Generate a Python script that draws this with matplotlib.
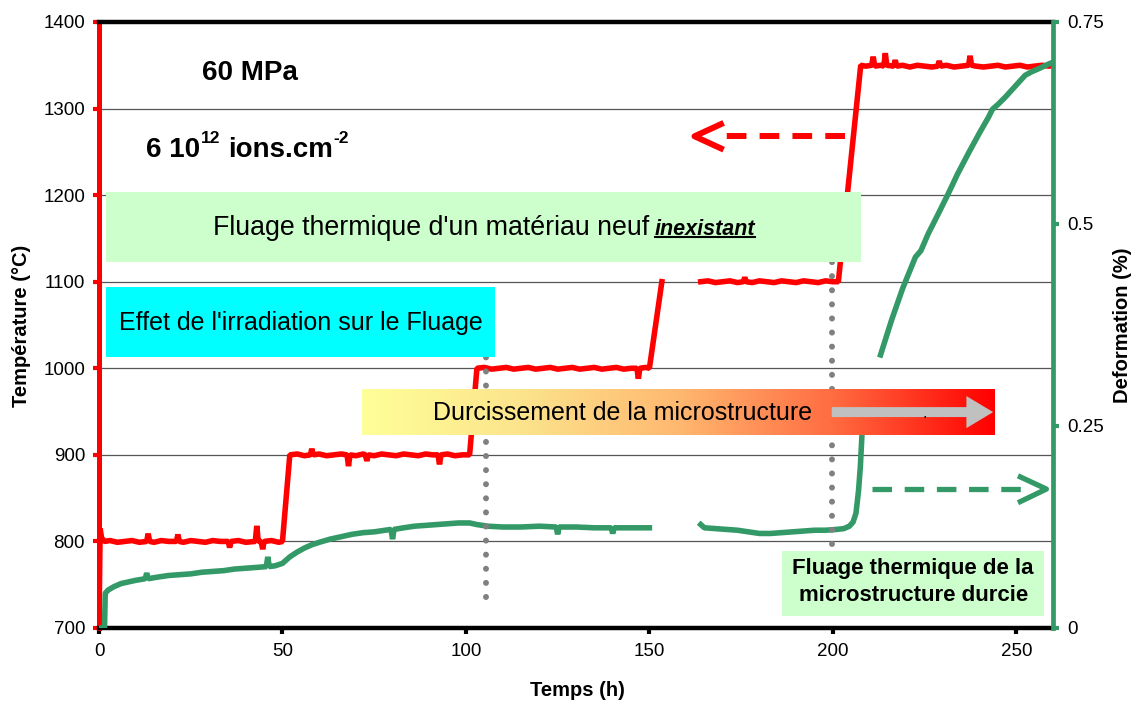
import numpy as np
import matplotlib.pyplot as plt
from matplotlib.colors import LinearSegmentedColormap
from matplotlib.patches import Rectangle, FancyArrow

plt.rcParams['font.family'] = ['Liberation Sans', 'DejaVu Sans']

# Température (°C) : paliers 800 -> 1000 puis 1100 -> 1350
temp_t1 = [0, 0.3, 0.7, 1.5, 3, 5, 7, 9, 11, 13.0, 13.4, 13.8, 15, 17, 19,
           21.1, 21.5, 21.9, 23, 25, 27, 29, 31, 33, 35.2, 35.6, 36, 38, 40,
           42.6, 43, 43.4, 44.2, 44.6, 45, 47, 49, 50, 52, 54, 56, 57.6, 58,
           58.4, 60, 62, 64, 66, 67.6, 68, 68.4, 70, 72, 72.6, 73, 73.4, 75,
           77, 79, 81, 83, 85, 87, 89, 91, 92.4, 92.8, 93.2, 95, 97, 99, 101,
           103, 105, 107, 109, 111, 113, 115, 117, 119, 121, 123, 125, 127,
           129, 131, 133, 135, 137, 139, 141, 143, 145, 146.6, 147, 147.4,
           149, 150, 153.4]
temp_v1 = [700, 815, 804, 800, 801, 799, 800, 801, 799, 800, 809, 800, 799,
           801, 800, 800, 808, 800, 799, 801, 800, 799, 801, 800, 800, 793,
           800, 801, 799, 800, 818, 800, 800, 791, 800, 801, 799, 800, 900,
           901, 899, 900, 907, 900, 901, 899, 900, 901, 900, 887, 900, 899,
           901, 900, 893, 900, 899, 901, 900, 899, 901, 900, 899, 901, 900,
           900, 889, 900, 901, 899, 900, 900, 1000, 1001, 999, 1000, 1001,
           999, 1000, 1001, 999, 1000, 1001, 999, 1000, 1001, 999, 1000, 1001,
           999, 1000, 1001, 999, 1000, 1000, 988, 1000, 1001, 1000, 1100]
temp_t2 = [164, 166, 168, 170, 172, 174, 175.6, 176, 176.4, 178, 180, 182,
           184, 186, 188, 190, 192, 194, 196, 198, 200, 201.5, 207.6, 209,
           210.6, 211, 211.4, 213, 213.9, 214.3, 214.7, 216.6, 217, 217.4,
           219, 221, 223, 225, 227, 228.6, 229, 229.4, 231, 233, 235, 237,
           237.4, 237.8, 239, 241, 243, 245, 247, 249, 251, 253, 255, 257,
           259, 260]
temp_v2 = [1100, 1101, 1099, 1100, 1101, 1099, 1100, 1105, 1100, 1099, 1101,
           1100, 1099, 1101, 1100, 1099, 1101, 1100, 1099, 1101, 1100, 1100,
           1350, 1349, 1350, 1360, 1349, 1350, 1349, 1364, 1350, 1349, 1356,
           1349, 1350, 1348, 1350, 1349, 1348, 1349, 1355, 1349, 1350, 1348,
           1349, 1350, 1361, 1350, 1349, 1348, 1349, 1350, 1348, 1349, 1350,
           1348, 1349, 1350, 1349, 1350]

# Deformation (%) : trois morceaux d'enregistrement
def_t1 = [0, 1.5, 1.7, 2.5, 4, 6, 8, 10, 12.6, 13, 13.4, 16, 19, 22, 25, 28,
          31, 34, 37, 40, 43, 45.6, 46, 46.4, 48, 50, 52, 54, 56, 58, 60, 63,
          66, 69, 72, 75, 78, 79.6, 80, 80.4, 83, 86, 89, 92, 95, 98, 101, 103,
          106, 110, 115, 120, 124.6, 125, 125.4, 130, 135, 139.6, 140, 140.4,
          145, 150]
def_v1 = [0, 0, 0.043, 0.047, 0.051, 0.055, 0.057, 0.059, 0.061, 0.068, 0.061,
          0.063, 0.065, 0.066, 0.067, 0.069, 0.070, 0.071, 0.073, 0.074, 0.075,
          0.076, 0.088, 0.076, 0.077, 0.080, 0.088, 0.094, 0.099, 0.103, 0.106,
          0.110, 0.113, 0.116, 0.118, 0.119, 0.121, 0.122, 0.110, 0.122, 0.124,
          0.126, 0.127, 0.128, 0.129, 0.130, 0.130, 0.128, 0.126, 0.125, 0.125,
          0.126, 0.125, 0.116, 0.125, 0.125, 0.124, 0.124, 0.117, 0.124, 0.124,
          0.124]
def_t2 = [164, 165, 168, 171, 174, 177, 180, 183, 186, 189, 192, 195, 198,
          201, 203, 204.5, 205.5, 206.3, 207, 207.5, 208, 208.3]
def_v2 = [0.128, 0.124, 0.123, 0.122, 0.121, 0.119, 0.117, 0.117, 0.118,
          0.119, 0.120, 0.121, 0.121, 0.122, 0.123, 0.126, 0.131, 0.142, 0.17,
          0.20, 0.245, 0.285]
def_t3 = [213, 216, 219, 222.5, 224, 226, 229, 231.5, 234, 237, 240, 242.4,
          243.5, 245, 247, 250, 252.4, 254, 256, 259.3, 260]
def_v3 = [0.338, 0.381, 0.42, 0.459, 0.467, 0.488, 0.515, 0.538, 0.562, 0.588,
          0.613, 0.632, 0.642, 0.648, 0.657, 0.672, 0.684, 0.688, 0.692, 0.699,
          0.70]

x_ticks = [0, 50, 100, 150, 200, 250]
temp_ticks = [700, 800, 900, 1000, 1100, 1200, 1300, 1400]
def_ticks = [0, 0.25, 0.5, 0.75]
def_labels = ['0', '0.25', '0.5', '0.75']

RED = '#FF0000'
GREEN = '#339966'

# trous dans l'enregistrement
temps_T = np.concatenate([temp_t1, [np.nan], temp_t2])
val_T = np.concatenate([temp_v1, [np.nan], temp_v2])
temps_D = np.concatenate([def_t1, [np.nan], def_t2, [np.nan], def_t3])
val_D = np.concatenate([def_v1, [np.nan], def_v2, [np.nan], def_v3])

fig = plt.figure(figsize=(11.37, 7.05), dpi=100)
ax1 = fig.add_axes([99 / 1137, 1 - 628 / 705, 954 / 1137, 606 / 705])
ax2 = ax1.twinx()
ax2.set_ylim(0, 0.75)
ax1.set_xlim(0, 260)
ax1.set_ylim(700, 1400)

ax1.grid(axis='y', color='#555555', lw=0.9)
ax1.set_axisbelow(True)

# courbes (la déformation est tracée dans ax1 avec l'échelle de ax2)
ax1.plot(temps_T, val_T, color=RED, lw=4, zorder=2, solid_joinstyle='bevel')
ax1.plot(temps_D, val_D, color=GREEN, lw=4, zorder=3, transform=ax2.transData,
         solid_joinstyle='bevel')

# pointillés gris
ax1.plot([105.5, 105.5], [736, 1020], color='#808080', lw=4.3,
         linestyle=(0, (0.01, 2.35)), dash_capstyle='round', zorder=4)
ax1.plot([199.8, 199.8], [797, 1125], color='#808080', lw=4.3,
         linestyle=(0, (0.01, 2.35)), dash_capstyle='round', zorder=4)

# flèches en tirets
ax1.plot([203.2, 170.3], [1268, 1268], color=RED, lw=4.3,
         linestyle=(0, (3.3, 2.2)), zorder=4)
ax1.plot([169.5, 162.3, 169.5], [1282, 1268, 1254], color=RED, lw=4.3, zorder=4)
ax1.plot([210.6, 252], [860.5, 860.5], color=GREEN, lw=3.8,
         linestyle=(0, (3.7, 2.4)), zorder=4)
ax1.plot([251.1, 258.2, 251.1], [874.5, 860.5, 846], color=GREEN, lw=3.8, zorder=4)

# cadres
ax1.add_patch(Rectangle((1.9, 1123), 205.7, 81, fc='#CCFFCC', ec='none', zorder=5))
ax1.add_patch(Rectangle((1.9, 1013), 106.1, 81, fc='#00FFFF', ec='none', zorder=5))
ax1.add_patch(Rectangle((186.2, 714), 71.4, 75, fc='#CCFFCC', ec='none', zorder=5))

cmap = LinearSegmentedColormap.from_list(
    'durci', ['#FFFF99', '#FCE48C', '#FFB870', '#FF6A40', '#FF0000'])
ax1.imshow(np.linspace(0, 1, 256).reshape(1, -1), cmap=cmap, aspect='auto',
           extent=[71.8, 244.3, 923, 976], interpolation='bilinear', zorder=5)
ax1.add_patch(FancyArrow(199.7, 949.4, 44, 0, width=11.5, head_width=37,
                         head_length=7.3, length_includes_head=True,
                         fc='#C0C0C0', ec='none', zorder=6))

# textes
bold20 = dict(fontsize=20, fontweight='bold', zorder=6)
sup = dict(fontsize=12.5, fontweight='bold', zorder=6, va='bottom',
           textcoords='offset points')
ax1.text(41, 1333, '60 MPa', ha='center', va='baseline', **bold20)
p1 = ax1.text(12.7, 1244, '6 10', ha='left', va='baseline', **bold20)
s1 = ax1.annotate('12', xy=(1, 0), xycoords=p1, xytext=(0.5, 12.5), **sup)
p2 = ax1.annotate('ions.cm', xy=(1, 0), xycoords=s1, xytext=(6, -12.5),
                  textcoords='offset points', va='bottom', **bold20)
ax1.annotate('-2', xy=(1, 0), xycoords=p2, xytext=(0.5, 12.5), **sup)

ax1.text(149.9, 1154, "Fluage thermique d'un matériau neuf", fontsize=19.3,
         ha='right', va='baseline', zorder=6)
t_inex = ax1.text(151.5, 1154, 'inexistant', fontsize=15.5, fontweight='bold',
                  fontstyle='italic', ha='left', va='baseline', zorder=6)
ax1.text(55, 1044, "Effet de l'irradiation sur le Fluage", fontsize=18,
         ha='center', va='baseline', zorder=6)
ax1.text(142.7, 940, 'Durcissement de la microstructure', fontsize=18,
         ha='center', va='baseline', zorder=6)
ax1.text(225, 942, '.', fontsize=12, ha='center', va='baseline', zorder=6)
ax1.text(221.9, 753, 'Fluage thermique de la\nmicrostructure durcie',
         fontsize=16, fontweight='bold', ha='center', va='center',
         linespacing=1.35, zorder=6)

# axes
ax1.set_xticks(x_ticks)
ax1.set_yticks(temp_ticks)
ax2.set_yticks(def_ticks)
ax2.set_yticklabels(def_labels)
ax1.tick_params(axis='x', direction='out', length=4, width=3, color='black',
                labelsize=13.5, pad=7)
ax1.tick_params(axis='y', direction='out', length=4, width=3, color=RED,
                labelsize=13.5, pad=6)
ax2.tick_params(axis='y', direction='out', length=4, width=3, color=GREEN,
                labelsize=13.5, pad=6)

for s in ['top', 'bottom']:
    ax1.spines[s].set_linewidth(3.2)
    ax1.spines[s].set_color('black')
    ax2.spines[s].set_visible(False)
ax1.spines['left'].set_color(RED)
ax1.spines['left'].set_linewidth(3.6)
ax1.spines['right'].set_visible(False)
ax2.spines['left'].set_visible(False)
ax2.spines['right'].set_color(GREEN)
ax2.spines['right'].set_linewidth(3.4)

fig.text(22 / 1137, 1 - 326 / 705, 'Température (°C)', rotation=90, fontsize=14.5,
         fontweight='bold', ha='center', va='center')
fig.text(1122 / 1137, 1 - 325 / 705, 'Deformation (%)', rotation=90,
         fontsize=14.5, fontweight='bold', ha='center', va='center')
fig.text(577 / 1137, 1 - 690 / 705, 'Temps (h)', fontsize=14.5,
         fontweight='bold', ha='center', va='center')

ax1.set_xlim(0, 260)
ax1.set_ylim(700, 1400)

# soulignement de "inexistant"
fig.canvas.draw()
bb = t_inex.get_window_extent()
inv = ax1.transData.inverted()
(ux0, uy), (ux1, _) = inv.transform([[bb.x0, bb.y0 + 2.5], [bb.x1, bb.y0 + 2.5]])
ax1.plot([ux0, ux1], [uy, uy], color='black', lw=1.5, zorder=6)

fig.savefig('out.png', dpi=100)
